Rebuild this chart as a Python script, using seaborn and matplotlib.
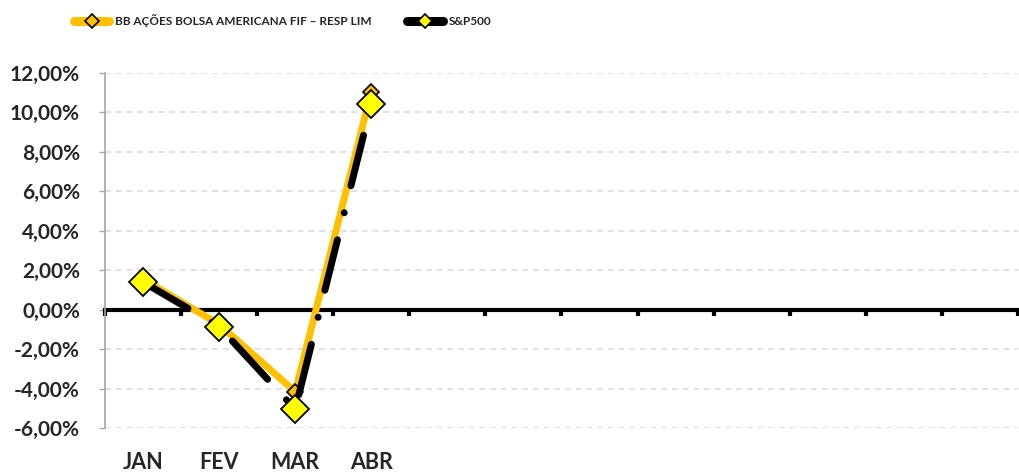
import numpy as np
import pandas as pd
import matplotlib
matplotlib.use("Agg")
import matplotlib.pyplot as plt
import seaborn as sns
from matplotlib.ticker import FuncFormatter

months = ["JAN", "FEV", "MAR", "ABR"]
n_slots = 12  # eixo preparado para o ano inteiro
bb_fund = [1.55, -0.75, -4.16, 11.05]
sp500 = [1.40, -0.86, -5.05, 10.42]
fund_name = "BB AÇÕES BOLSA AMERICANA FIF – RESP LIM"
index_name = "S&P500"
y_ticks = [-6, -4, -2, 0, 2, 4, 6, 8, 10, 12]

df = pd.DataFrame({"mes": months, "fund": bb_fund, "index": sp500})

sns.set_style("white")
plt.rcParams["font.family"] = ["Lato", "DejaVu Sans"]
plt.rcParams["font.weight"] = "bold"

fig = plt.figure(figsize=(10.2, 4.73), dpi=100)
ax = fig.add_axes([105 / 1020, 45 / 473, 913 / 1020, 355 / 473])

sns.lineplot(data=df, x="mes", y="fund", ax=ax, color="#FFC000", linewidth=5,
             marker="D", markersize=8, markerfacecolor="#FFC000",
             markeredgecolor="black", markeredgewidth=1.2, label=fund_name,
             solid_capstyle="round", zorder=3)
sns.lineplot(data=df, x="mes", y="index", ax=ax, color="black", linewidth=5,
             linestyle=(0, (7.5, 4, 0.01, 4)), dash_capstyle="round",
             marker="D", markersize=14, markerfacecolor="#FFFF00",
             markeredgecolor="black", markeredgewidth=1.3, label=index_name,
             zorder=4)

ax.set_xlim(-0.5, n_slots - 0.5)
ax.set_ylim(y_ticks[0], y_ticks[-1])
ax.set_yticks(y_ticks)
ax.yaxis.set_major_formatter(FuncFormatter(lambda v, p: f"{v:.2f}%".replace(".", ",")))
ax.yaxis.grid(True, color="#D9D9D9", linestyle=(0, (4, 3)), linewidth=1.1)
ax.set_axisbelow(True)

ax.set_xticks(range(len(months)))
ax.set_xticklabels(months)
ax.tick_params(axis="x", length=0, pad=17, labelsize=15.5)
ax.tick_params(axis="y", length=4, width=1, color="#A6A6A6", direction="out",
               pad=14, labelsize=15, left=True)
ax.set_xlabel("")
ax.set_ylabel("")

for side in ["top", "right", "bottom"]:
    ax.spines[side].set_visible(False)
ax.spines["left"].set_color("#A6A6A6")
ax.spines["left"].set_linewidth(1.2)

# linha do zero com as marcas entre categorias
zero_pos = (0 - y_ticks[0]) / (y_ticks[-1] - y_ticks[0])
sec = ax.secondary_xaxis(zero_pos)
sec.set_xticks(np.arange(n_slots + 1) - 0.5)
sec.set_xticklabels([])
sec.tick_params(length=4, width=3, color="black", direction="out")
sec.spines["bottom"].set_color("black")
sec.spines["bottom"].set_linewidth(3)
sec.set_zorder(2)

ax.legend_.remove()
handles, labels = ax.get_legend_handles_labels()
leg = fig.legend(handles, labels, loc="upper left", bbox_to_anchor=(74 / 1020, 1 - 14 / 473),
                 ncol=2, frameon=False, borderpad=0, borderaxespad=0,
                 prop={"weight": "bold", "size": 8.5},
                 columnspacing=3.0, handlelength=3.0, handletextpad=0.5)
for h in leg.legend_handles:
    h.set_markersize(7)
    h.set_linewidth(6.5)
    h.set_linestyle("-")
    h.set_solid_capstyle("round")
    h.set_markeredgewidth(1.2)

fig.savefig("out.png", dpi=100)
